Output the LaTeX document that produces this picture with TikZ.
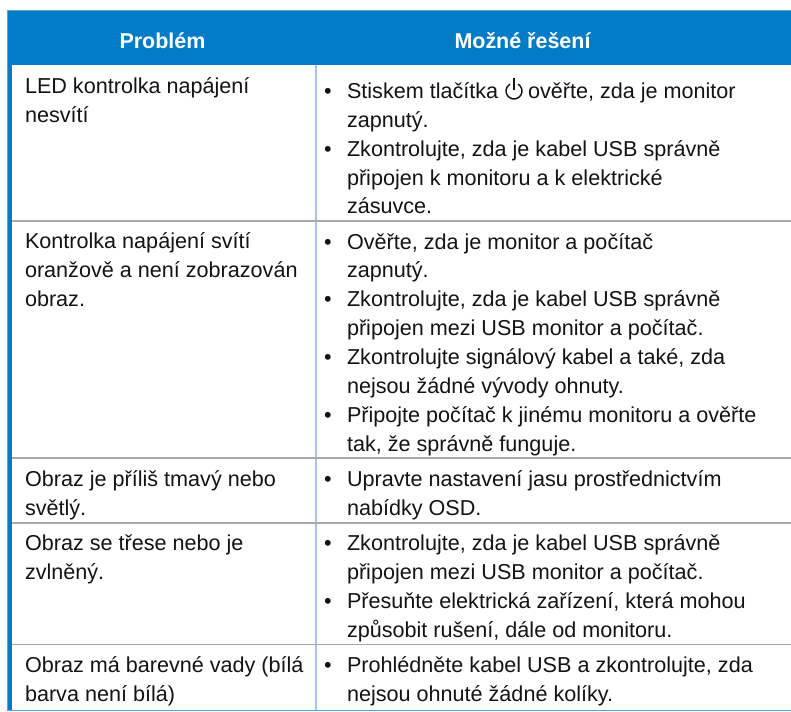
\documentclass[tikz,border=0pt]{standalone}
\usepackage{fontspec}
\setmainfont{Liberation Sans}
\definecolor{hdr}{RGB}{2,124,198}
\definecolor{vline}{RGB}{170,196,232}
\definecolor{hline}{RGB}{168,168,176}
\definecolor{edge}{RGB}{90,165,215}
\definecolor{ink}{RGB}{20,20,20}
\tikzset{
  x=0.75pt,y=-0.75pt,
  cell/.style={anchor=base west,inner sep=0pt,outer sep=0pt,font=\fontsize{16.2}{18}\selectfont,text=ink},
  head/.style={anchor=base,inner sep=0pt,font=\fontsize{16.1}{18}\selectfont\bfseries,text=white},
  bul/.style={anchor=base,inner sep=0pt,font=\fontsize{16.2}{18}\selectfont,text=ink},
}
\begin{document}
\begin{tikzpicture}
\useasboundingbox (0,0) rectangle (791,711);
\fill[white] (0,0) rectangle (791,711);
% table
\fill[hdr] (7,10) rectangle (791,65);
\fill[hdr] (7,65) rectangle (12,710);
\draw[edge,line width=0.75pt] (7,10) -- (791,10);
\draw[edge,line width=0.75pt] (7,10) -- (7,710) -- (791,710);
\draw[vline,line width=1.1pt] (316,65) -- (316,710);
\draw[hline,line width=1.1pt] (12,221) -- (791,221);
\draw[hline,line width=1.1pt] (12,458) -- (791,458);
\draw[hline,line width=1.1pt] (12,523) -- (791,523);
\draw[hline,line width=1.1pt] (12,644.5) -- (791,644.5);
% headers
\node[head] (h1) at (162.5,48.5) {Problém};
\node[head] (h2) at (522.5,48.5) {Možné řešení};
% left column
\node[cell] (l1) at (25,93) {LED kontrolka napájení};
\node[cell] (l2) at (25,122) {nesvítí};
\node[cell] (l3) at (25,248) {Kontrolka napájení svítí};
\node[cell] (l4) at (25,277) {oranžově a není zobrazován};
\node[cell] (l5) at (25,306) {obraz.};
\node[cell] (l6) at (25,486) {Obraz je příliš tmavý nebo};
\node[cell] (l7) at (25,515) {světlý.};
\node[cell] (l8) at (25,550) {Obraz se třese nebo je};
\node[cell] (l9) at (25,579) {zvlněný.};
\node[cell] (l10) at (25,672) {Obraz má barevné vady (bílá};
\node[cell] (l11) at (25,701) {barva není bílá)};
% right column
\node[bul] (b1) at (328,98) {•};
\node[cell] (r1) at (347,98) {Stiskem tlačítka};
\node[cell] (r1b) at (528,98) {ověřte, zda je monitor};
\draw[line width=1.1pt,ink] (514,78) -- (514,90);
\draw[line width=1.1pt,ink] (518,84.07) arc[start angle=-60,end angle=240,radius=8];
\node[cell] (r2) at (347,127) {zapnutý.};
\node[bul] (b2) at (328,156) {•};
\node[cell] (r3) at (347,156) {Zkontrolujte, zda je kabel USB správně};
\node[cell] (r4) at (347,185) {připojen k monitoru a k elektrické};
\node[cell] (r5) at (347,213) {zásuvce.};
\node[bul] (b3) at (328,249) {•};
\node[cell] (r6) at (347,249) {Ověřte, zda je monitor a počítač};
\node[cell] (r7) at (347,277) {zapnutý.};
\node[bul] (b4) at (328,306) {•};
\node[cell] (r8) at (347,306) {Zkontrolujte, zda je kabel USB správně};
\node[cell] (r9) at (347,335) {připojen mezi USB monitor a počítač.};
\node[bul] (b5) at (328,364) {•};
\node[cell] (r10) at (347,364) {Zkontrolujte signálový kabel a také, zda};
\node[cell] (r11) at (347,393) {nejsou žádné vývody ohnuty.};
\node[bul] (b6) at (328,422) {•};
\node[cell] (r12) at (347,422) {Připojte počítač k jinému monitoru a ověřte};
\node[cell] (r13) at (347,451) {tak, že správně funguje.};
\node[bul] (b7) at (328,486) {•};
\node[cell] (r14) at (347,486) {Upravte nastavení jasu prostřednictvím};
\node[cell] (r15) at (347,515) {nabídky OSD.};
\node[bul] (b8) at (328,550) {•};
\node[cell] (r16) at (347,550) {Zkontrolujte, zda je kabel USB správně};
\node[cell] (r17) at (347,579) {připojen mezi USB monitor a počítač.};
\node[bul] (b9) at (328,608) {•};
\node[cell] (r18) at (347,608) {Přesuňte elektrická zařízení, která mohou};
\node[cell] (r19) at (347,637) {způsobit rušení, dále od monitoru.};
\node[bul] (b10) at (328,672) {•};
\node[cell] (r20) at (347,672) {Prohlédněte kabel USB a zkontrolujte, zda};
\node[cell] (r21) at (347,701) {nejsou ohnuté žádné kolíky.};
\end{tikzpicture}
\end{document}
